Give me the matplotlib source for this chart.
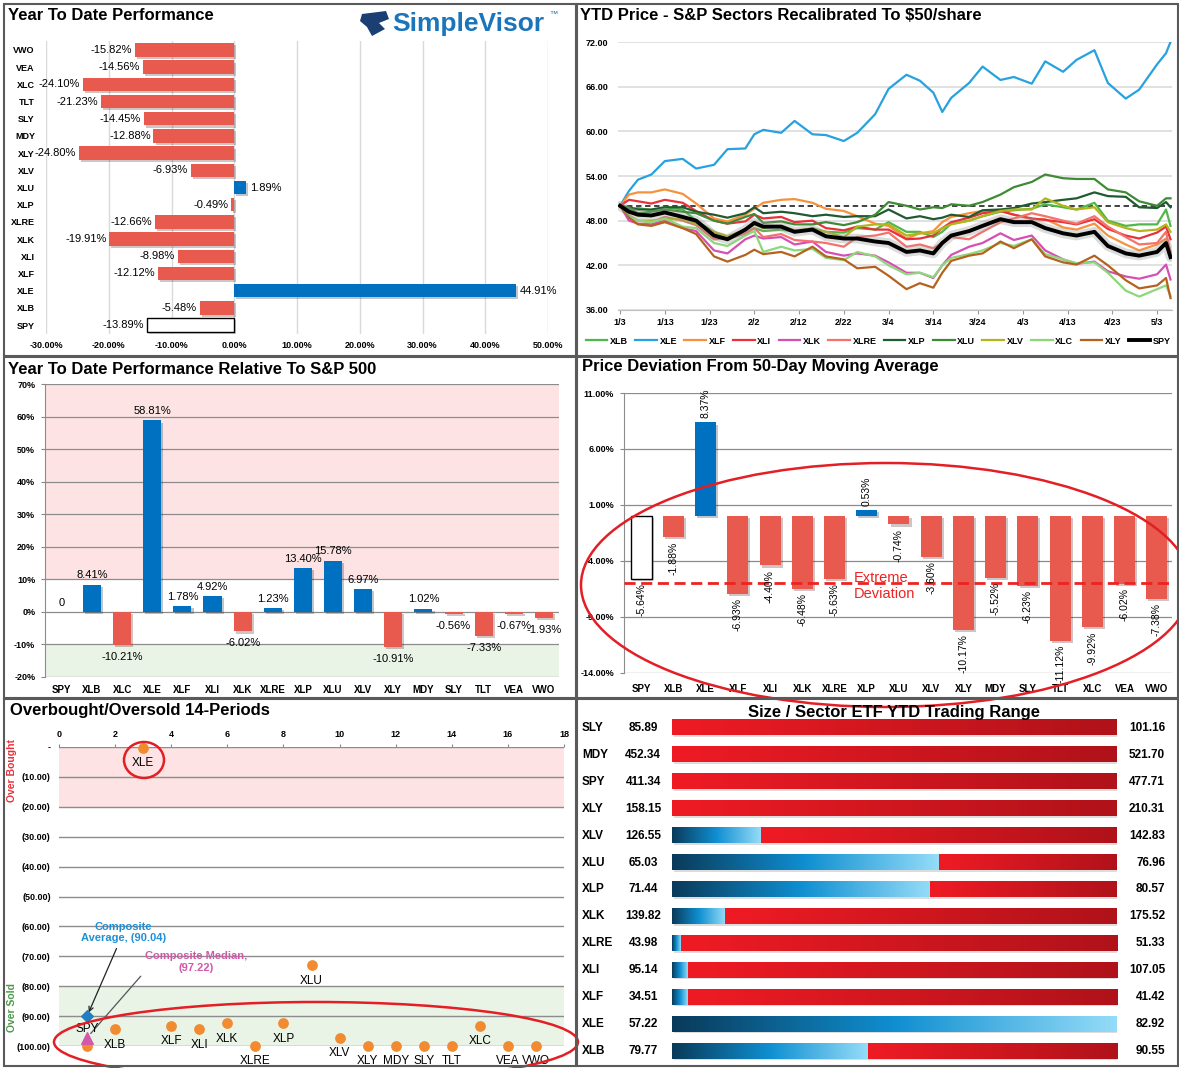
import numpy as np
import pandas as pd
import matplotlib
matplotlib.use('Agg')
from matplotlib import pyplot as plt
from matplotlib import patches
from matplotlib import patheffects as pe
from matplotlib.colors import LinearSegmentedColormap

plt.rcParams['font.family'] = ['Liberation Sans', 'DejaVu Sans']

# ---- Year To Date Performance (top to bottom)
ytd_names = ['VWO', 'VEA', 'XLC', 'TLT', 'SLY', 'MDY', 'XLY', 'XLV', 'XLU', 'XLP',
             'XLRE', 'XLK', 'XLI', 'XLF', 'XLE', 'XLB', 'SPY']
ytd_vals = [-15.82, -14.56, -24.10, -21.23, -14.45, -12.88, -24.80, -6.93, 1.89, -0.49,
            -12.66, -19.91, -8.98, -12.12, 44.91, -5.48, -13.89]

# ---- YTD price, recalibrated to $50/share
price_dates = ['2022-01-03', '2022-01-05', '2022-01-07', '2022-01-10', '2022-01-13', '2022-01-17',
               '2022-01-20', '2022-01-24', '2022-01-27', '2022-01-31', '2022-02-02', '2022-02-04',
               '2022-02-08', '2022-02-11', '2022-02-15', '2022-02-18', '2022-02-22', '2022-02-25',
               '2022-03-01', '2022-03-04', '2022-03-08', '2022-03-11', '2022-03-14', '2022-03-16',
               '2022-03-18', '2022-03-22', '2022-03-25', '2022-03-29', '2022-04-01', '2022-04-05',
               '2022-04-08', '2022-04-12', '2022-04-15', '2022-04-19', '2022-04-22', '2022-04-26',
               '2022-04-29', '2022-05-03', '2022-05-05', '2022-05-06']
xlb = [50, 49.5, 49.7, 49.4, 49.8, 49.5, 48.0, 46.5, 45.5, 46.3, 47.0, 46.6, 46.8, 46.5, 47.0, 46.5,
       46.4, 47.0, 46.8, 47.8, 46.5, 46.5, 45.8, 46.5, 47.6, 48.0, 48.6, 49.2, 49.4, 49.6, 50.2, 49.8,
       49.5, 50.4, 48.0, 47.3, 47.5, 47.5, 49.5, 47.3]
xle = [50.0, 52.0, 53.5, 54.2, 56.0, 56.3, 55.0, 55.5, 57.6, 57.7, 59.6, 60.2, 59.8, 61.4, 59.6, 59.5,
       58.7, 59.8, 62.3, 65.7, 67.6, 66.8, 65.2, 62.6, 64.5, 66.5, 68.7, 66.9, 67.3, 66.4, 69.4, 68.0,
       69.6, 70.9, 66.5, 64.4, 65.6, 69.0, 70.5, 72.0]
xlf = [50, 51.5, 51.8, 51.8, 52.2, 51.6, 50.3, 48.3, 47.9, 48.8, 49.6, 50.4, 50.8, 50.9, 50.4, 49.6,
       49.3, 48.6, 47.6, 47.3, 45.6, 46.3, 46.6, 47.8, 48.5, 49.0, 49.3, 49.3, 48.8, 48.2, 48.2, 47.1,
       46.8, 47.6, 46.0, 44.8, 44.0, 44.8, 45.6, 43.9]
xli = [50, 50.8, 50.6, 50.3, 50.8, 50.4, 49.3, 48.0, 47.6, 47.9, 48.8, 48.3, 48.5, 47.8, 48.0, 47.0,
       46.7, 47.2, 46.8, 46.8, 45.5, 45.6, 46.0, 47.0, 47.8, 48.4, 49.0, 49.3, 48.8, 48.3, 48.1, 47.8,
       47.5, 48.2, 46.9, 46.0, 45.6, 46.4, 47.2, 45.5]
xlk = [50, 48.0, 47.6, 47.5, 48.0, 47.0, 46.6, 44.0, 43.6, 45.5, 46.0, 45.6, 45.8, 44.8, 45.2, 43.8,
       43.3, 43.6, 43.3, 42.4, 41.0, 41.0, 40.3, 42.0, 43.4, 44.5, 45.0, 46.3, 45.4, 46.0, 44.0, 42.8,
       42.2, 42.5, 41.2, 40.5, 40.2, 40.8, 42.1, 40.1]
xlre = [50, 48.7, 48.0, 47.8, 48.5, 48.0, 47.4, 45.5, 45.6, 46.3, 47.0, 45.8, 46.2, 45.4, 45.2, 45.0,
        44.5, 45.8, 46.0, 46.4, 44.5, 44.8, 44.3, 45.0, 45.8, 45.5, 46.5, 47.8, 48.3, 49.0, 48.6, 48.0,
        47.6, 48.6, 47.2, 45.8, 44.8, 45.0, 46.5, 43.7]
xlp = [50, 49.8, 49.5, 49.5, 49.8, 49.8, 49.2, 48.8, 48.4, 49.0, 49.8, 49.0, 49.2, 49.0, 48.6, 48.8,
       48.5, 48.6, 48.6, 49.5, 48.3, 48.6, 48.2, 48.4, 48.8, 48.5, 49.4, 49.5, 49.7, 50.3, 50.5, 50.8,
       51.0, 51.8, 51.3, 51.2, 49.8, 49.7, 50.5, 49.8]
xlu = [50, 49.7, 49.0, 49.2, 49.5, 49.2, 49.0, 48.0, 47.6, 48.5, 48.9, 47.7, 47.9, 47.5, 47.5, 47.8,
       47.4, 47.8, 48.8, 50.5, 50.0, 49.5, 49.8, 49.7, 50.2, 50.0, 50.5, 51.5, 52.5, 53.2, 54.2, 53.7,
       53.6, 53.6, 52.2, 51.8, 50.6, 50.0, 51.0, 51.0]
xlv = [50, 48.5, 48.0, 48.0, 48.2, 48.2, 47.6, 46.5, 45.9, 46.8, 47.5, 47.0, 47.3, 46.7, 46.9, 46.5,
       45.8, 47.2, 47.5, 47.5, 46.0, 46.3, 46.3, 47.0, 47.5, 48.0, 48.6, 49.3, 49.5, 49.5, 51.0, 50.0,
       49.5, 49.8, 47.8, 47.0, 46.6, 46.8, 47.5, 46.5]
xlc = [50, 48.6, 48.0, 47.8, 48.3, 47.2, 47.0, 45.0, 44.6, 46.0, 46.6, 43.8, 44.5, 44.0, 44.2, 43.0,
       42.7, 43.8, 43.2, 42.0, 40.8, 41.0, 40.4, 42.0, 43.0, 43.5, 44.0, 45.0, 44.6, 45.5, 43.5, 42.8,
       42.3, 42.4, 41.0, 38.6, 37.8, 38.8, 39.3, 37.9]
xly = [50, 48.4, 47.5, 47.3, 47.8, 47.0, 46.2, 43.2, 42.5, 43.4, 44.1, 43.5, 43.8, 43.2, 44.5, 43.2,
       42.8, 41.6, 41.8, 40.6, 38.8, 39.6, 39.0, 41.0, 42.6, 43.3, 43.6, 45.2, 44.3, 45.5, 43.2, 42.4,
       42.1, 43.3, 42.0, 40.0, 38.9, 39.3, 40.3, 37.6]
spy = [50.0, 49.2, 48.8, 48.7, 49.1, 48.5, 48.0, 46.0, 45.5, 46.8, 47.7, 47.2, 47.2, 46.5, 46.8, 45.9,
       45.6, 45.6, 45.2, 45.0, 43.8, 44.0, 43.6, 45.0, 46.0, 46.6, 47.3, 48.2, 47.8, 47.8, 47.0, 46.3,
       46.0, 46.5, 44.6, 43.6, 43.3, 43.8, 45.0, 43.1]

# ---- Relative to S&P 500
rel_names = ['SPY', 'XLB', 'XLC', 'XLE', 'XLF', 'XLI', 'XLK', 'XLRE', 'XLP', 'XLU', 'XLV', 'XLY',
             'MDY', 'SLY', 'TLT', 'VEA', 'VWO']
rel_vals = [0, 8.41, -10.21, 58.81, 1.78, 4.92, -6.02, 1.23, 13.40, 15.78, 6.97, -10.91,
            1.02, -0.56, -7.33, -0.67, -1.93]

# ---- Deviation from 50-day moving average
dev_names = ['SPY', 'XLB', 'XLE', 'XLF', 'XLI', 'XLK', 'XLRE', 'XLP', 'XLU', 'XLV', 'XLY', 'MDY',
             'SLY', 'TLT', 'XLC', 'VEA', 'VWO']
dev_vals = [-5.64, -1.88, 8.37, -6.93, -4.40, -6.48, -5.63, 0.53, -0.74, -3.60, -10.17, -5.52,
            -6.23, -11.12, -9.92, -6.02, -7.38]
extreme_dev = -6.0

# ---- Overbought / oversold
ob_names = ['SPY', 'XLB', 'XLE', 'XLF', 'XLI', 'XLK', 'XLRE', 'XLP', 'XLU', 'XLV', 'XLY', 'MDY',
            'SLY', 'TLT', 'XLC', 'VEA', 'VWO']
ob_x = list(range(1, 18))
ob_vals = [-100, -94.4, -0.2, -93.3, -94.4, -92.4, -100, -92.4, -73.0, -97.2, -100, -100,
           -100, -100, -93.3, -100, -100]
comp_avg = -90.04
comp_med = -97.22

# ---- YTD trading range
rng_names = ['SLY', 'MDY', 'SPY', 'XLY', 'XLV', 'XLU', 'XLP', 'XLK', 'XLRE', 'XLI', 'XLF', 'XLE', 'XLB']
rng_low = [85.89, 452.34, 411.34, 158.15, 126.55, 65.03, 71.44, 139.82, 43.98, 95.14, 34.51, 57.22, 79.77]
rng_high = [101.16, 521.70, 477.71, 210.31, 142.83, 76.96, 80.57, 175.52, 51.33, 107.05, 41.42, 82.92, 90.55]
rng_pos = [0.0, 0.0, 0.0, 0.0, 0.20, 0.60, 0.58, 0.12, 0.02, 0.035, 0.035, 1.0, 0.44]

RED = '#e8594e'
BLUE = '#0070c0'
W, H = 1179, 1068
fig = plt.figure(figsize=(W / 100, H / 100), dpi=100)


def add_ax(l, t, r, b):
    return fig.add_axes([l / W, 1 - b / H, (r - l) / W, (b - t) / H])


def ftext(x, y, s, **kw):
    return fig.text(x / W, 1 - y / H, s, **kw)


def fig_ellipse(cx, cy, rx, ry, **kw):
    e = patches.Ellipse((cx / W, 1 - cy / H), 2 * rx / W, 2 * ry / H, transform=fig.transFigure,
                        fill=False, **kw)
    fig.add_artist(e)


# ================= top left
ax = add_ax(46, 41.4, 548, 333.6)
yy = np.arange(len(ytd_names))
cols = [BLUE if v > 0 else RED for v in ytd_vals]
cols[-1] = 'white'
bars = ax.barh(yy, ytd_vals, height=0.78, color=cols, zorder=3)
for b in bars:
    b.set_path_effects([pe.SimplePatchShadow(offset=(1.5, -1.5), alpha=0.25), pe.Normal()])
bars[-1].set_edgecolor('black')
bars[-1].set_linewidth(1)
for i, v in enumerate(ytd_vals):
    if v < 0:
        ax.annotate(f'{v:.2f}%', (v, i), xytext=(-2, 0), textcoords='offset points',
                    ha='right', va='center', fontsize=8, zorder=5)
    else:
        ax.annotate(f'{v:.2f}%', (v, i), xytext=(3, 0), textcoords='offset points',
                    ha='left', va='center', fontsize=8, zorder=5)
ax.set_xlim(-30, 50)
ax.set_ylim(len(ytd_names) - 0.5, -0.5)
ax.set_yticks(yy)
ax.set_yticklabels(ytd_names, fontsize=6.5, weight='bold')
ax.set_xticks(np.arange(-30, 51, 10))
ax.set_xticklabels([f'{v:.2f}%' for v in np.arange(-30, 51, 10)], fontsize=6.5, weight='bold')
ax.tick_params(length=0)
ax.tick_params(axis='y', pad=8)
ax.tick_params(axis='x', pad=5)
ax.grid(axis='x', color='#d9d9d9', lw=1, zorder=0)
for s in ax.spines.values():
    s.set_visible(False)
ftext(8, 16, 'Year To Date Performance', fontsize=12, weight='bold', va='center')
ftext(392, 24, 'SimpleVisor', color='#1b75bb', fontsize=19, weight='bold', va='center')
ftext(549, 14, '™', color='#1b75bb', fontsize=6, va='center')
fig.add_artist(patches.Polygon([(362 / W, 1 - 14 / H), (386 / W, 1 - 11 / H), (389 / W, 1 - 19 / H),
                                (379 / W, 1 - 23 / H), (385 / W, 1 - 29 / H), (372 / W, 1 - 36 / H),
                                (367 / W, 1 - 27 / H), (360 / W, 1 - 21 / H)],
                               closed=True, transform=fig.transFigure, fc='#1c3f73', ec='none'))

# ================= top right
ax = add_ax(618, 42, 1172, 310)
dates = pd.to_datetime(price_dates)
series = [('XLB', xlb, '#4fb848'), ('XLE', xle, '#27a2df'), ('XLF', xlf, '#f7913d'),
          ('XLI', xli, '#e8313a'), ('XLK', xlk, '#d64fb4'), ('XLRE', xlre, '#f4726a'),
          ('XLP', xlp, '#1f5a30'), ('XLU', xlu, '#3f8a34'), ('XLV', xlv, '#b4b41c'),
          ('XLC', xlc, '#8cd87a'), ('XLY', xly, '#b4621e')]
ax.axhline(50, color='#333333', ls=(0, (3, 2)), lw=1.3, zorder=2)
for name, vals, c in series:
    ax.plot(dates, vals, color=c, lw=1.6, label=name, zorder=3)
# soft grey halo under the SPY line
ax.plot(dates, spy, color='#999999', lw=7, alpha=0.35, zorder=4, solid_capstyle='round')
ax.plot(dates, spy, color='black', lw=2.8, label='SPY', zorder=4)
ax.set_ylim(36, 72)
ax.set_xlim(pd.Timestamp('2022-01-02 13:00'), pd.Timestamp('2022-05-06 08:00'))
ax.set_yticks(np.arange(36, 73, 6))
ax.set_yticklabels([f'{v:.2f}' for v in np.arange(36, 73, 6)], fontsize=6.5, weight='bold')
ticks = pd.date_range('2022-01-03', periods=13, freq='10D')
ax.set_xticks(ticks)
ax.set_xticklabels([f'{d.month}/{d.day}' for d in ticks], fontsize=6.5, weight='bold')
ax.tick_params(axis='y', length=0, pad=7)
ax.tick_params(axis='x', length=3, color='#999999', pad=3)
ax.grid(axis='y', color='#dcdcdc', lw=1.2, zorder=0)
for s in ['top', 'right', 'left']:
    ax.spines[s].set_visible(False)
ax.spines['bottom'].set_color('#bfbfbf')
ax.legend(loc='center', bbox_to_anchor=(0.47, -0.116), ncol=12, frameon=False,
          prop={'size': 6.5, 'weight': 'bold'}, handlelength=2.4, handletextpad=0.3, columnspacing=0.8)
ftext(580, 16, 'YTD Price - S&P Sectors Recalibrated To $50/share', fontsize=12, weight='bold',
      va='center')

# ================= middle left
ax = add_ax(45, 384, 559, 677)
xx = np.arange(len(rel_names))
ax.axhspan(10, 70, color='#fde3e3', zorder=0, lw=0)
ax.axhspan(-20, -10, color='#e9f3e6', zorder=0, lw=0)
cols = [BLUE if v > 0 else RED for v in rel_vals]
bars = ax.bar(xx, rel_vals, width=0.6, color=cols, zorder=3)
for b in bars:
    b.set_path_effects([pe.SimplePatchShadow(offset=(1.5, -1.5), alpha=0.25), pe.Normal()])
for i, v in enumerate(rel_vals):
    s = '0' if v == 0 else f'{v:.2f}%'
    if v >= 0:
        ax.annotate(s, (i, v), xytext=(0, 3), textcoords='offset points', ha='center',
                    va='bottom', fontsize=8, zorder=5)
    else:
        ax.annotate(s, (i, v), xytext=(0, -5), textcoords='offset points', ha='center',
                    va='top', fontsize=8, zorder=5)
ax.set_ylim(-20, 70)
ax.set_xlim(-0.56, len(rel_names) - 0.5)
ax.set_yticks(np.arange(-20, 71, 10))
ax.set_yticklabels([f'{v}%' for v in np.arange(-20, 71, 10)], fontsize=6.5, weight='bold')
ax.set_xticks(xx)
ax.set_xticklabels(rel_names, fontsize=7, weight='bold')
ax.tick_params(axis='y', length=3, color='#888888', pad=4)
ax.tick_params(axis='x', length=0, pad=6)
ax.grid(axis='y', color='#8c8c8c', lw=0.9, zorder=1)
for s in ['top', 'right', 'bottom']:
    ax.spines[s].set_visible(False)
ax.spines['left'].set_color('#8c8c8c')
ftext(8, 369, 'Year To Date Performance Relative To S&P 500', fontsize=12, weight='bold', va='center')

# ================= middle right
ax = add_ax(624, 393, 1172, 673)
xx = np.arange(len(dev_names))
cols = [BLUE if v > 0 else RED for v in dev_vals]
cols[0] = 'white'
bars = ax.bar(xx, dev_vals, width=0.65, color=cols, zorder=3)
for b in bars:
    b.set_path_effects([pe.SimplePatchShadow(offset=(1.5, -1.5), alpha=0.25), pe.Normal()])
bars[0].set_edgecolor('black')
bars[0].set_linewidth(1)
for i, v in enumerate(dev_vals):
    if v >= 0:
        ax.annotate(f'{v:.2f}%', (i, v), xytext=(0, 3), textcoords='offset points', ha='center',
                    va='bottom', rotation=90, fontsize=7.5, zorder=5)
    else:
        ax.annotate(f'{v:.2f}%', (i, v), xytext=(0, -3), textcoords='offset points', ha='center',
                    va='top', rotation=90, fontsize=7.5, zorder=5)
ax.axhline(extreme_dev, color='#ee2222', ls=(0, (4, 2)), lw=2, zorder=4)
ax.set_ylim(-14, 11)
ax.set_xlim(-0.53, len(dev_names) - 0.53)
ax.set_yticks(np.arange(-14, 12, 5))
ax.set_yticklabels([f'{v:.2f}%' for v in np.arange(-14, 12, 5)], fontsize=6.5, weight='bold')
ax.set_xticks(xx)
ax.set_xticklabels(dev_names, fontsize=7, weight='bold')
ax.tick_params(axis='y', length=3, color='#888888', pad=4)
ax.tick_params(axis='x', length=0, pad=8)
ax.grid(axis='y', color='#8c8c8c', lw=0.9, zorder=1)
for s in ['top', 'right', 'bottom']:
    ax.spines[s].set_visible(False)
ax.spines['left'].set_color('#8c8c8c')
ftext(582, 367, 'Price Deviation From 50-Day Moving Average', fontsize=12, weight='bold', va='center')
ftext(854, 586, 'Extreme\nDeviation', color='#ee2222', fontsize=10.5, va='center', ha='left',
      linespacing=1.15)
fig_ellipse(886, 585, 305, 122, ec='#e31e24', lw=1.8)

# ================= bottom left
ax = add_ax(59, 747, 564, 1046)
ax.axhspan(-20, 0, color='#fde3e3', zorder=0, lw=0)
ax.axhspan(-100, -80, color='#e9f3e6', zorder=0, lw=0)
ax.scatter(ob_x, ob_vals, s=45, color='#f28a30', zorder=4, clip_on=False)
for name, x, v in zip(ob_names, ob_x, ob_vals):
    dy = 12 if name == 'SPY' else -11
    ax.annotate(name, (x, v), xytext=(0, dy), textcoords='offset points', ha='center',
                va='center', fontsize=8.5, zorder=5, annotation_clip=False)
ax.scatter([1], [comp_avg], marker='D', s=35, color='#1f7fc4', zorder=5, clip_on=False)
ax.scatter([1], [comp_med], marker='^', s=70, color='#d458a8', zorder=5, clip_on=False)
ax.annotate(f'Composite\nAverage, ({-comp_avg:.2f})', (1, comp_avg), xytext=(2.3, -62),
            ha='center', va='center', color='#1f8fd6', fontsize=8, weight='bold',
            arrowprops=dict(arrowstyle='->', color='#222222', lw=0.9, shrinkA=2, shrinkB=3))
ax.annotate(f'Composite Median,\n({-comp_med:.2f})', (1, comp_med), xytext=(4.9, -72),
            ha='center', va='center', color='#d458a8', fontsize=8, weight='bold',
            arrowprops=dict(arrowstyle='-', color='#555555', lw=0.9, shrinkA=2, shrinkB=4,
                            relpos=(0.0, 0.1)))
ax.set_xlim(0, 18)
ax.set_ylim(-100, 0)
ax.xaxis.tick_top()
ax.set_xticks(np.arange(0, 19, 2))
ax.set_xticklabels([str(v) for v in np.arange(0, 19, 2)], fontsize=6.5, weight='bold')
ax.set_yticks(np.arange(-100, 1, 10))
ax.set_yticklabels([f'({-v:.2f})' if v < 0 else '-' for v in np.arange(-100, 1, 10)], fontsize=6.5,
                   weight='bold')
ax.tick_params(axis='x', length=2, color='#888888', pad=4)
ax.tick_params(axis='y', length=0, pad=6)
ax.grid(axis='y', color='#8c8c8c', lw=1, zorder=1)
for s in ax.spines.values():
    s.set_visible(False)
ftext(10, 710, 'Overbought/Oversold 14-Periods', fontsize=12, weight='bold', va='center')
ftext(12, 771, 'Over Bought', color='#e8313a', fontsize=7.5, weight='bold', rotation=90,
      ha='center', va='center')
ftext(12, 1007, 'Over Sold', color='#4a9a4a', fontsize=7.5, weight='bold', rotation=90,
      ha='center', va='center')
fig_ellipse(144, 760, 20, 18, ec='#e31e24', lw=1.8)
fig_ellipse(316, 1042, 262, 40, ec='#e31e24', lw=1.8)

# ================= bottom right
ax = add_ax(672, 714.5, 1117, 1064.5)
blue_cmap = LinearSegmentedColormap.from_list('bl', ['#0a3a5a', '#0f8fd1', '#95dcf8'])
red_cmap = LinearSegmentedColormap.from_list('rd', ['#ef1b24', '#b0121a'])
grad = np.linspace(0, 1, 256).reshape(1, -1)
bh = 0.56
for i, name in enumerate(rng_names):
    p = rng_pos[i]
    if p > 0:
        ax.imshow(grad, cmap=blue_cmap, extent=[0, p, i + bh / 2, i - bh / 2], aspect='auto',
                  interpolation='bilinear', zorder=2)
    if p < 1:
        ax.imshow(grad, cmap=red_cmap, extent=[p, 1, i + bh / 2, i - bh / 2], aspect='auto',
                  interpolation='bilinear', zorder=2)
    ax.add_patch(patches.Rectangle((0.004, i - bh / 2 + 0.06), 1, bh, fc='#bbbbbb', ec='none',
                                   alpha=0.5, zorder=1))
    tr = ax.get_yaxis_transform()
    ax.text(-0.202, i, name, transform=tr, ha='left', va='center', fontsize=8.5, weight='bold')
    ax.text(-0.065, i, f'{rng_low[i]:.2f}', transform=tr, ha='center', va='center', fontsize=8.5,
            weight='bold')
    ax.text(1.108, i, f'{rng_high[i]:.2f}', transform=tr, ha='right', va='center', fontsize=8.5,
            weight='bold')
ax.set_xlim(0, 1)
ax.set_ylim(len(rng_names) - 0.5, -0.5)
ax.axis('off')
ftext(894, 713, 'Size / Sector ETF YTD Trading Range', fontsize=12, weight='bold', ha='center',
      va='center')

# panel frames
for l, t, r, b in [(4, 4, 576, 356), (577, 4, 1178, 356), (4, 357, 576, 698),
                   (577, 357, 1178, 698), (4, 699, 576, 1066), (577, 699, 1178, 1066)]:
    fig.add_artist(patches.Rectangle((l / W, 1 - b / H), (r - l) / W, (b - t) / H,
                                     transform=fig.transFigure, fill=False, ec='#5a5a5a', lw=1.5))

fig.savefig('out.png', dpi=100)
